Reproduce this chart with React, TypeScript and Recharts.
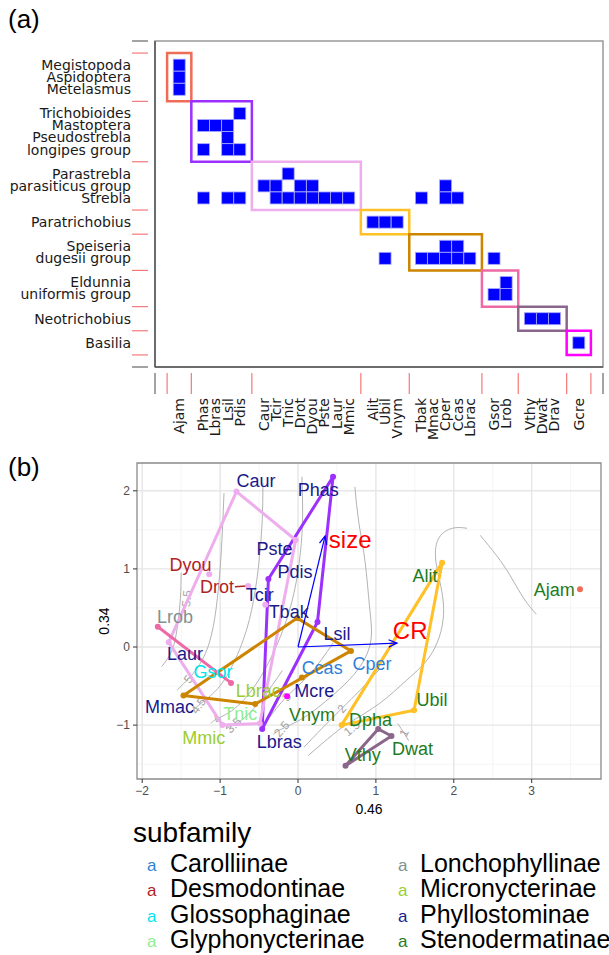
import React from 'react';
import { ScatterChart, Scatter, XAxis, YAxis, ReferenceArea, CartesianGrid } from 'recharts';

const SANS = '"Liberation Sans", Arial, sans-serif';
const DEJAVU = '"DejaVu Sans", sans-serif';

// ---------- panel (a): modules of the bat-fly network ----------
const rowGroups = [
  ['Megistopoda', 'Aspidoptera', 'Metelasmus'],
  ['Trichobioides', 'Mastoptera', 'Pseudostrebla', 'longipes group'],
  ['Parastrebla', 'parasiticus group', 'Strebla'],
  ['Paratrichobius'],
  ['Speiseria', 'dugesii group'],
  ['Eldunnia', 'uniformis group'],
  ['Neotrichobius'],
  ['Basilia'],
];
const colGroups = [
  ['Ajam'],
  ['Phas', 'Lbras', 'Lsil', 'Pdis'],
  ['Caur', 'Tcir', 'Tnic', 'Drot', 'Dyou', 'Pste', 'Laur', 'Mmic'],
  ['Alit', 'Ubil', 'Vnym'],
  ['Tbak', 'Mmac', 'Cper', 'Ccas', 'Lbrac'],
  ['Gsor', 'Lrob'],
  ['Vthy', 'Dwat', 'Drav'],
  ['Gcre'],
];
const moduleColors = ['#EF6C55', '#9B30FF', '#EEAEEE', '#FFC125', '#CD8500', '#EE6AA7', '#8B668B', '#FF00FF'];

const interactions: [string, string[]][] = [
  ['Megistopoda', ['Ajam']],
  ['Aspidoptera', ['Ajam']],
  ['Metelasmus', ['Ajam']],
  ['Trichobioides', ['Pdis']],
  ['Mastoptera', ['Phas', 'Lbras', 'Lsil']],
  ['Pseudostrebla', ['Lsil']],
  ['longipes group', ['Phas', 'Lsil', 'Pdis']],
  ['Parastrebla', ['Tnic']],
  ['parasiticus group', ['Caur', 'Tcir', 'Drot', 'Dyou', 'Cper']],
  ['Strebla', ['Phas', 'Lsil', 'Pdis', 'Tcir', 'Tnic', 'Drot', 'Dyou', 'Pste', 'Laur', 'Mmic', 'Tbak', 'Cper', 'Ccas']],
  ['Paratrichobius', ['Alit', 'Ubil', 'Vnym']],
  ['Speiseria', ['Cper', 'Ccas']],
  ['dugesii group', ['Ubil', 'Tbak', 'Mmac', 'Cper', 'Ccas', 'Lbrac', 'Gsor']],
  ['Eldunnia', ['Lrob']],
  ['uniformis group', ['Gsor', 'Lrob']],
  ['Neotrichobius', ['Vthy', 'Dwat', 'Drav']],
  ['Basilia', ['Gcre']],
];

// ---------- panel (b): ordination ----------
const subfamilyColors: Record<string, string> = {
  Carolliinae: '#2F7FD8',
  Desmodontinae: '#B22222',
  Glossophaginae: '#00E5EE',
  Glyphonycterinae: '#90EE90',
  Lonchophyllinae: '#7F9191',
  Micronycterinae: '#9ACD32',
  Phyllostominae: '#1A1A8C',
  Stenodermatinae: '#1E7B1E',
};
const legendCol1 = ['Carolliinae', 'Desmodontinae', 'Glossophaginae', 'Glyphonycterinae'];
const legendCol2 = ['Lonchophyllinae', 'Micronycterinae', 'Phyllostominae', 'Stenodermatinae'];

// species scores: name, x, y, module index
const batScores: [string, number, number, number][] = [
  ['Ajam', 3.62, 0.74, 0],
  ['Phas', 0.45, 2.18, 1], ['Pdis', -0.38, 0.87, 1], ['Lbras', -0.46, -1.05, 1], ['Lsil', 0.25, 0.32, 1],
  ['Caur', -0.79, 1.99, 2], ['Pste', -0.03, 1.37, 2], ['Tnic', -0.49, -0.98, 2], ['Mmic', -0.97, -1.0, 2],
  ['Laur', -1.66, 0.06, 2], ['Dyou', -1.14, 0.93, 2], ['Drot', -0.64, 0.78, 2], ['Tcir', -0.42, 0.54, 2],
  ['Alit', 1.85, 1.08, 3], ['Ubil', 1.49, -0.81, 3], ['Vnym', 0.56, -1.0, 3],
  ['Tbak', -0.01, 0.37, 4], ['Cper', 0.68, -0.05, 4], ['Ccas', 0.05, -0.39, 4], ['Lbrac', -0.55, -0.73, 4], ['Mmac', -1.47, -0.62, 4],
  ['Lrob', -1.8, 0.26, 5], ['Gsor', -0.86, -0.46, 5],
  ['Dpha', 1.03, -1.05, 6], ['Dwat', 1.2, -1.14, 6], ['Vthy', 0.61, -1.52, 6],
  ['Mcre', -0.14, -0.63, 7],
];

// repelled label positions: name, x, y, subfamily
const batLabels: [string, number, number, string][] = [
  ['Caur', -0.54, 2.13, 'Phyllostominae'], ['Phas', 0.26, 2.01, 'Phyllostominae'],
  ['Pste', -0.3, 1.26, 'Phyllostominae'], ['Pdis', -0.04, 0.97, 'Phyllostominae'],
  ['Dyou', -1.38, 1.05, 'Desmodontinae'], ['Drot', -1.04, 0.77, 'Desmodontinae'],
  ['Tcir', -0.49, 0.67, 'Phyllostominae'], ['Tbak', -0.12, 0.45, 'Phyllostominae'],
  ['Lrob', -1.58, 0.39, 'Lonchophyllinae'], ['Lsil', 0.5, 0.17, 'Phyllostominae'],
  ['Laur', -1.45, -0.08, 'Phyllostominae'], ['Gsor', -1.09, -0.32, 'Glossophaginae'],
  ['Ccas', 0.31, -0.26, 'Carolliinae'], ['Cper', 0.95, -0.21, 'Carolliinae'],
  ['Mmac', -1.65, -0.77, 'Phyllostominae'], ['Lbrac', -0.51, -0.56, 'Micronycterinae'],
  ['Mcre', 0.21, -0.56, 'Phyllostominae'], ['Tnic', -0.74, -0.86, 'Glyphonycterinae'],
  ['Vnym', 0.18, -0.87, 'Stenodermatinae'], ['Mmic', -1.21, -1.16, 'Micronycterinae'],
  ['Lbras', -0.24, -1.21, 'Phyllostominae'], ['Ubil', 1.72, -0.67, 'Stenodermatinae'],
  ['Dpha', 0.93, -0.93, 'Stenodermatinae'], ['Vthy', 0.83, -1.38, 'Stenodermatinae'],
  ['Dwat', 1.47, -1.3, 'Stenodermatinae'], ['Alit', 1.63, 0.91, 'Stenodermatinae'],
  ['Ajam', 3.29, 0.74, 'Stenodermatinae'],
];

// environmental vectors
const vectors: [string, number, number, number, number][] = [
  // name, tip x, tip y, label x, label y
  ['size', 0.347, 1.42, 0.67, 1.37],
  ['CR', 1.27, 0.05, 1.44, 0.21],
];

// fitted surface contours
const contourLines: [number, number][][] = [
  [[-1.5, 0.95], [-1.51, 0.62], [-1.55, 0.25], [-1.62, -0.05], [-1.75, -0.25]],
  [[-0.95, 1.97], [-0.97, 1.5], [-1.0, 1.0], [-1.05, 0.5], [-1.14, 0.05], [-1.28, -0.25], [-1.41, -0.41], [-1.55, -0.55]],
  [[-0.45, 2.1], [-0.46, 1.6], [-0.5, 1.1], [-0.57, 0.6], [-0.7, 0.1], [-0.92, -0.38], [-1.12, -0.62], [-1.28, -0.75], [-1.4, -0.85]],
  [[0.05, 2.18], [0.06, 1.7], [0.03, 1.2], [-0.05, 0.7], [-0.2, 0.2], [-0.46, -0.35], [-0.78, -0.76], [-1.04, -0.92], [-1.12, -0.98]],
  [[0.73, 2.05], [0.78, 1.6], [0.86, 1.1], [0.92, 0.5], [0.93, 0.05], [0.72, -0.35], [0.35, -0.7], [0.05, -0.92], [-0.21, -1.05], [-0.32, -1.12]],
  [[-0.2, -0.3], [-0.45, -0.65], [-0.68, -0.9], [-0.83, -1.0], [-0.92, -1.04]],
  [[0.45, 0.05], [0.15, -0.35], [-0.15, -0.64], [-0.38, -0.92], [-0.48, -1.05]],
  [[1.05, -0.28], [0.8, -0.55], [0.56, -0.79], [0.3, -1.05], [0.08, -1.28]],
  [[0.13, -1.39], [0.45, -1.12], [0.69, -0.95], [1.05, -0.72], [1.4, -0.42], [1.73, -0.06], [1.87, 0.49], [1.78, 1.03], [1.8, 1.38], [1.98, 1.52], [2.17, 1.52]],
  [[1.28, -0.98], [1.36, -1.1], [1.42, -1.2]],
  [[2.34, 1.43], [2.55, 1.17], [2.72, 0.92], [2.9, 0.62], [3.06, 0.42]],
];
const contourLabels: [string, number, number, number][] = [
  ['5.5', -1.43, 0.62, -85], ['5', -1.41, -0.41, -55], ['4.5', -1.28, -0.75, -55],
  ['4', -1.04, -0.92, -50], ['3.5', -0.83, -1.0, -45], ['3', -0.15, -0.64, -50],
  ['2.5', -0.21, -1.05, -50], ['2', 0.56, -0.79, -50], ['1.5', 0.69, -1.04, -40], ['1', 1.36, -1.1, -65],
];

const xMajor = [-2, -1, 0, 1, 2, 3];
const xMinor = [-1.5, -0.5, 0.5, 1.5, 2.5, 3.5];
const yMajor = [-1, 0, 1, 2];
const yMinor = [-1.5, -0.5, 0.5, 1.5];

// ---------- helpers ----------
type Slot = { name: string; kind: 'edge' | 'sep' | 'item' };
function buildSlots(groups: string[][]): Slot[] {
  const slots: Slot[] = [{ name: '', kind: 'edge' }, { name: '', kind: 'sep' }];
  groups.forEach(g => {
    g.forEach(n => slots.push({ name: n, kind: 'item' }));
    slots.push({ name: '', kind: 'sep' });
  });
  slots.push({ name: '', kind: 'edge' });
  return slots;
}
const colSlots = buildSlots(colGroups);
const rowSlots = buildSlots(rowGroups);
const colIndex: Record<string, number> = {};
colSlots.forEach((s, i) => { if (s.kind === 'item') colIndex[s.name] = i; });
const rowIndex: Record<string, number> = {};
rowSlots.forEach((s, i) => { if (s.kind === 'item') rowIndex[s.name] = i; });

const cells = interactions.flatMap(([row, cols]) => cols.map(c => ({ x: colIndex[c], y: rowIndex[row] })));
const boxes = rowGroups.map((rg, i) => ({
  x1: colIndex[colGroups[i][0]] - 1,
  x2: colIndex[colGroups[i][colGroups[i].length - 1]] + 1,
  y1: rowIndex[rg[0]] - 1,
  y2: rowIndex[rg[rg.length - 1]] + 1,
  color: moduleColors[i],
}));

function convexHull(pts: { x: number; y: number }[]) {
  if (pts.length < 3) return pts;
  const p = [...pts].sort((a, b) => a.x - b.x || a.y - b.y);
  const cross = (o: any, a: any, b: any) => (a.x - o.x) * (b.y - o.y) - (a.y - o.y) * (b.x - o.x);
  const lower: any[] = [];
  for (const q of p) {
    while (lower.length >= 2 && cross(lower[lower.length - 2], lower[lower.length - 1], q) <= 0) lower.pop();
    lower.push(q);
  }
  const upper: any[] = [];
  for (const q of [...p].reverse()) {
    while (upper.length >= 2 && cross(upper[upper.length - 2], upper[upper.length - 1], q) <= 0) upper.pop();
    upper.push(q);
  }
  const h = lower.slice(0, -1).concat(upper.slice(0, -1));
  return [...h, h[0]];
}

const points = batScores.map(([name, x, y, m]) => ({ name, x, y, m }));
const hulls = moduleColors.map((color, m) => ({ color, pts: convexHull(points.filter(p => p.m === m)) }));

// ---------- panel (a) ticks ----------
const ColTick = (p: any) => {
  const s = colSlots[p.payload.value];
  if (!s) return <g />;
  if (s.kind === 'item') {
    return (
      <text x={p.x} y={398} transform={`rotate(-90 ${p.x} 398)`} textAnchor="end" dy="0.35em"
        fontSize={14} fontFamily={DEJAVU} fill="#1a1a1a">{s.name}</text>
    );
  }
  return <line x1={p.x} x2={p.x} y1={373} y2={394} stroke={s.kind === 'sep' ? '#F57878' : '#666'} strokeWidth={1.2} />;
};
const RowTick = (p: any) => {
  const s = rowSlots[p.payload.value];
  if (!s) return <g />;
  if (s.kind === 'item') {
    return <text x={131} y={p.y} textAnchor="end" dy="0.35em" fontSize={14} fontFamily={DEJAVU} fill="#1a1a1a">{s.name}</text>;
  }
  return <line x1={132} x2={148} y1={p.y} y2={p.y} stroke={s.kind === 'sep' ? '#F57878' : '#666'} strokeWidth={1.2} />;
};
const CellShape = (p: any) => (
  <rect x={p.cx - 6} y={p.cy - 6} width={12} height={12} fill="#0000FF" stroke="#A8A8FF" strokeWidth={0.8} />
);

function PanelA() {
  const nx = colSlots.length - 1;
  const ny = rowSlots.length - 1;
  return (
    <ScatterChart width={609} height={450} margin={{ top: 41, right: 6, bottom: 0, left: 0 }}>
      <XAxis type="number" dataKey="x" domain={[0, nx]} ticks={colSlots.map((_, i) => i)} interval={0}
        tick={(p: any) => <ColTick {...p} />} tickLine={false} axisLine={{ stroke: '#555', strokeWidth: 1.5 }}
        height={83} allowDataOverflow />
      <YAxis type="number" dataKey="y" domain={[0, ny]} reversed ticks={rowSlots.map((_, i) => i)} interval={0}
        tick={(p: any) => <RowTick {...p} />} tickLine={false} axisLine={{ stroke: '#555', strokeWidth: 1.5 }}
        width={155} allowDataOverflow />
      <ReferenceArea x1={0} x2={nx} y1={0} y2={ny} fill="none" stroke="#999" strokeWidth={1.5} ifOverflow="visible" />
      {boxes.map((b, i) => (
        <ReferenceArea key={i} x1={b.x1} x2={b.x2} y1={b.y1} y2={b.y2} fill="none" fillOpacity={0}
          stroke={b.color} strokeWidth={2.5} ifOverflow="visible" />
      ))}
      <Scatter data={cells} shape={CellShape} isAnimationActive={false} />
    </ScatterChart>
  );
}

// ---------- panel (b) shapes ----------
const NoDot = () => <g />;
const Dot = (color: string) => (p: any) => <circle cx={p.cx} cy={p.cy} r={3} fill={color} />;
const LabelShape = (p: any) => (
  <text x={p.cx} y={p.cy} textAnchor="middle" dy="0.35em" fontSize={18} fontFamily={SANS}
    fill={subfamilyColors[p.payload.sub]}>{p.payload.name}</text>
);
const VecLabelShape = (p: any) => (
  <text x={p.cx} y={p.cy} textAnchor="middle" dy="0.35em" fontSize={24} fontFamily={SANS} fill="#FF0000">{p.payload.name}</text>
);
const ContourLabelShape = (p: any) => (
  <text x={p.cx} y={p.cy} textAnchor="middle" dy="0.35em" fontSize={12} fontFamily={SANS} fill="#A3A3A3"
    transform={`rotate(${p.payload.rot} ${p.cx} ${p.cy})`}>{p.payload.t}</text>
);
const ArrowHead = (p: any) => {
  if (!p.payload.tip) return <g />;
  const ang = Math.atan2(-p.payload.y, p.payload.x);
  const L = 9, a = 0.42;
  const x1 = p.cx - L * Math.cos(ang - a), y1 = p.cy - L * Math.sin(ang - a);
  const x2 = p.cx - L * Math.cos(ang + a), y2 = p.cy - L * Math.sin(ang + a);
  return <path d={`M${x1},${y1}L${p.cx},${p.cy}L${x2},${y2}`} fill="none" stroke="#0000FF" strokeWidth={1.3} />;
};

function PanelB() {
  const labelData = batLabels.map(([name, x, y, sub]) => ({ name, x, y, sub }));
  const drot = points.find(p => p.name === 'Drot')!;
  const drotLab = labelData.find(l => l.name === 'Drot')!;
  return (
    <ScatterChart width={609} height={370} margin={{ top: 13, right: 8, bottom: 0, left: 0 }}>
      <CartesianGrid verticalValues={xMinor} horizontalValues={yMinor} stroke="#F2F2F2" strokeWidth={0.8} />
      <CartesianGrid verticalValues={xMajor} horizontalValues={yMajor} stroke="#E6E6E6" strokeWidth={1.4} />
      <XAxis type="number" dataKey="x" domain={[-2.067, 3.89]} ticks={xMajor} interval={0} allowDataOverflow
        tickFormatter={(v: number) => (v < 0 ? `\u2212${-v}` : `${v}`)}
        tick={{ fontSize: 12, fill: '#4D4D4D', fontFamily: SANS }} tickSize={4} tickMargin={3}
        tickLine={{ stroke: '#333' }} axisLine={false} height={41}
        label={{
          content: (lp: any) => (
            <text x={lp.viewBox.x + lp.viewBox.width / 2} y={lp.viewBox.y + 30} textAnchor="middle" dy="0.35em"
              fontSize={14} fontFamily={SANS} fill="#000">0.46</text>
          ),
        }} />
      <YAxis type="number" dataKey="y" domain={[-1.69, 2.356]} ticks={yMajor} interval={0} allowDataOverflow
        tickFormatter={(v: number) => (v < 0 ? `\u2212${-v}` : `${v}`)}
        tick={{ fontSize: 12, fill: '#4D4D4D', fontFamily: SANS }} tickSize={4} tickMargin={3}
        tickLine={{ stroke: '#333' }} axisLine={false} width={137}
        label={{
          content: (lp: any) => {
            const cx = 104, cy = lp.viewBox.y + lp.viewBox.height / 2;
            return (
              <text x={cx} y={cy} transform={`rotate(-90 ${cx} ${cy})`} textAnchor="middle" dy="0.35em"
                fontSize={14} fontFamily={SANS} fill="#000">0.34</text>
            );
          },
        }} />
      <ReferenceArea x1={-2.067} x2={3.89} y1={-1.69} y2={2.356} fill="none" fillOpacity={0}
        stroke="#8A8A8A" strokeWidth={1.3} ifOverflow="visible" />

      {contourLines.map((c, i) => (
        <Scatter key={`c${i}`} data={c.map(([x, y]) => ({ x, y }))} line={{ stroke: '#B3B3B3', strokeWidth: 1 }}
          lineJointType="natural" shape={NoDot} isAnimationActive={false} />
      ))}
      <Scatter data={contourLabels.map(([t, x, y, rot]) => ({ t, x, y, rot }))} shape={ContourLabelShape} isAnimationActive={false} />

      {hulls.map((h, i) => (
        h.pts.length > 1 ? (
          <Scatter key={`h${i}`} data={h.pts} line={{ stroke: h.color, strokeWidth: 3, strokeLinejoin: 'round' }}
            shape={NoDot} isAnimationActive={false} />
        ) : null
      ))}

      {vectors.map(([name, x, y]) => (
        <Scatter key={`v${name}`} data={[{ x: 0, y: 0, tip: false }, { x, y, tip: true }]}
          line={{ stroke: '#0000FF', strokeWidth: 1.2 }} shape={ArrowHead} isAnimationActive={false} />
      ))}

      <Scatter data={[{ x: drotLab.x + 0.23, y: drotLab.y }, { x: drot.x - 0.02, y: drot.y }]}
        line={{ stroke: '#B22222', strokeWidth: 1.5 }} shape={NoDot} isAnimationActive={false} />

      {moduleColors.map((color, m) => (
        <Scatter key={`p${m}`} data={points.filter(p => p.m === m)} shape={Dot(color)} isAnimationActive={false} />
      ))}

      <Scatter data={labelData} shape={LabelShape} isAnimationActive={false} />
      <Scatter data={vectors.map(([name, , , x, y]) => ({ name, x, y }))} shape={VecLabelShape} isAnimationActive={false} />
    </ScatterChart>
  );
}

function LegendB() {
  const rowTop = (i: number) => 851 + i * 25.3;
  const item = (name: string, i: number, keyX: number, textX: number) => (
    <React.Fragment key={name}>
      <div style={{ position: 'absolute', left: keyX - 5, top: rowTop(i) + 2, fontSize: 17, lineHeight: '25px', color: subfamilyColors[name] }}>a</div>
      <div style={{ position: 'absolute', left: textX, top: rowTop(i), fontSize: 25, lineHeight: '25px', color: '#000', whiteSpace: 'nowrap' }}>{name}</div>
    </React.Fragment>
  );
  return (
    <div style={{ position: 'absolute', left: 0, top: 0, fontFamily: SANS }}>
      <div style={{ position: 'absolute', left: 133, top: 817, fontSize: 28, lineHeight: '32px', color: '#000' }}>subfamily</div>
      {legendCol1.map((n, i) => item(n, i, 152, 170))}
      {legendCol2.map((n, i) => item(n, i, 403, 420))}
    </div>
  );
}

export default function App() {
  return (
    <div style={{ position: 'absolute', left: 0, top: 0, width: 609, height: 955, background: '#fff', overflow: 'hidden' }}>
      <div style={{ position: 'absolute', left: 0, top: 0 }}><PanelA /></div>
      <div style={{ position: 'absolute', left: 0, top: 450 }}><PanelB /></div>
      <LegendB />
      <div style={{ position: 'absolute', left: 8, top: 2, fontSize: 26, lineHeight: '34px', fontFamily: SANS }}>(a)</div>
      <div style={{ position: 'absolute', left: 8, top: 450, fontSize: 26, lineHeight: '34px', fontFamily: SANS }}>(b)</div>
    </div>
  );
}
